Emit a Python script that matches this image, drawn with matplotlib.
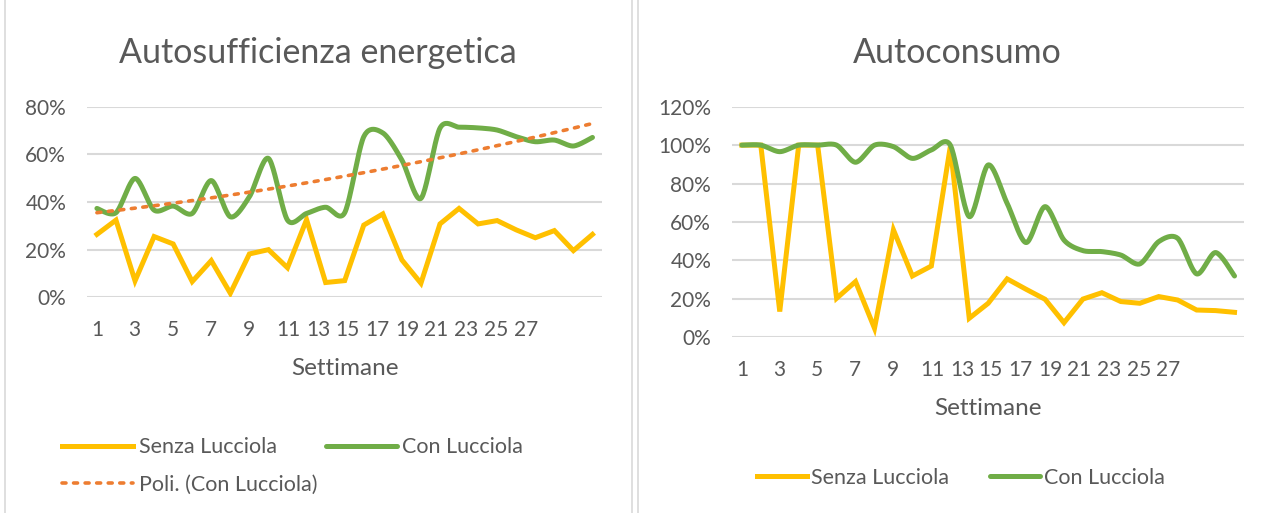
import numpy as np
import matplotlib
matplotlib.use("Agg")
import matplotlib.pyplot as plt
from matplotlib.patches import Rectangle
from matplotlib.ticker import PercentFormatter

plt.rcParams['font.family'] = ['Lato', 'DejaVu Sans']

# settimane 1..27
weeks = np.arange(1, 28)

# Autosufficienza energetica (frazione)
autosuff_senza = [0.264, 0.324, 0.069, 0.255, 0.224, 0.066, 0.154, 0.017, 0.182,
                  0.200, 0.124, 0.326, 0.062, 0.070, 0.303, 0.350, 0.157, 0.059,
                  0.308, 0.373, 0.308, 0.322, 0.283, 0.250, 0.280, 0.196, 0.264]
autosuff_con = [0.373, 0.355, 0.499, 0.366, 0.383, 0.352, 0.490, 0.338, 0.422,
                0.583, 0.324, 0.352, 0.378, 0.355, 0.674, 0.690, 0.576, 0.415,
                0.710, 0.714, 0.711, 0.702, 0.674, 0.653, 0.660, 0.635, 0.671]

# Autoconsumo (frazione)
autocons_senza = [1.00, 1.00, 0.134, 1.00, 1.00, 0.203, 0.290, 0.047, 0.559,
                  0.319, 0.371, 0.992, 0.099, 0.177, 0.304, 0.250, 0.198, 0.076,
                  0.199, 0.232, 0.186, 0.177, 0.212, 0.194, 0.142, 0.139, 0.130]
autocons_con = [1.00, 1.00, 0.966, 1.00, 1.00, 1.00, 0.911, 1.00, 0.992,
                0.931, 0.975, 1.00, 0.628, 0.897, 0.697, 0.493, 0.680, 0.506,
                0.451, 0.446, 0.428, 0.382, 0.498, 0.515, 0.330, 0.441, 0.319]

tick_labels = ['1', '3', '5', '7', '9', '11', '13', '15', '17', '19', '21', '23', '25', '27']
# posizioni delle etichette come le dispone Excel (compresse dopo 11)
tick_pos = [1, 2.98, 4.98, 6.97, 8.97, 11.07, 12.64, 14.14, 15.70, 17.28, 18.79, 20.37, 21.95, 23.52]

YELLOW = '#FFC000'
GREEN = '#70AD47'
ORANGE = '#ED7D31'
GRID = '#D9D9D9'
TXT = '#595959'


def smooth(x, y, n=24, k=7.0):
    # curva liscia tipo Excel (Bezier con tangenti Catmull-Rom)
    x = np.asarray(x, float)
    y = np.asarray(y, float)
    px = np.concatenate([[x[0]], x, [x[-1]]])
    py = np.concatenate([[y[0]], y, [y[-1]]])
    t = np.linspace(0, 1, n)[:, None]
    xs, ys = [], []
    for i in range(1, len(px) - 2):
        p0 = np.array([px[i], py[i]])
        p3 = np.array([px[i + 1], py[i + 1]])
        c1 = p0 + (p3 - np.array([px[i - 1], py[i - 1]])) / k
        c2 = p3 - (np.array([px[i + 2], py[i + 2]]) - p0) / k
        b = ((1 - t) ** 3) * p0 + 3 * ((1 - t) ** 2) * t * c1 + 3 * (1 - t) * t ** 2 * c2 + t ** 3 * p3
        xs.append(b[:, 0])
        ys.append(b[:, 1])
    return np.concatenate(xs), np.concatenate(ys)


W, H = 1273, 513
fig = plt.figure(figsize=(W / 100, H / 100), dpi=100)
fig.patch.set_facecolor('white')

# cornici dei due grafici
fig.patches.append(Rectangle((5 / W, -0.05), 627 / W, 1.1, transform=fig.transFigure,
                             fill=False, edgecolor=GRID, lw=1.2))
fig.patches.append(Rectangle((638 / W, -0.05), 640 / W, 1.1, transform=fig.transFigure,
                             fill=False, edgecolor=GRID, lw=1.2))


def ax_rect(l, t, r, b):
    return [l / W, 1 - b / H, (r - l) / W, (b - t) / H]


ax1 = fig.add_axes(ax_rect(87, 106.7, 602, 297.3))
ax2 = fig.add_axes(ax_rect(732, 106.7, 1244, 337.3))

for ax, ymax in ((ax1, 0.8), (ax2, 1.2)):
    ax.set_xlim(0.48, 27.5)
    ax.set_ylim(0, ymax)
    ax.set_yticks(np.arange(0, ymax + 0.01, 0.2))
    ax.yaxis.set_major_formatter(PercentFormatter(1.0, decimals=0))
    ax.grid(axis='y', color=GRID, lw=1.5)
    ax.set_axisbelow(True)
    for s in ax.spines.values():
        s.set_visible(False)
    ax.set_xticks(tick_pos)
    ax.set_xticklabels(tick_labels)
    ax.tick_params(length=0, labelsize=15, colors=TXT)
    ax.tick_params(axis='x', pad=16)
    ax.tick_params(axis='y', pad=15)
    ax.set_xlabel('Settimane', fontsize=17.5, color=TXT, labelpad=13)

# grafico 1
l_senza, = ax1.plot(weeks, autosuff_senza, color=YELLOW, lw=3.6, solid_joinstyle='miter')
sx, sy = smooth(weeks, autosuff_con)
l_con, = ax1.plot(sx, sy, color=GREEN, lw=3.6, solid_capstyle='round')
coef = np.polyfit(weeks, autosuff_con, 2)
tx = np.linspace(1, 27, 200)
l_poly, = ax1.plot(tx, np.polyval(coef, tx), color=ORANGE, lw=2.6,
                   linestyle=(0, (1.1, 2.1)), dash_capstyle='round')

fig.text(318 / W, 1 - 53 / H, 'Autosufficienza energetica', ha='center', va='center',
         fontsize=24.5, color=TXT)
ax1.legend([l_senza, l_poly, l_con],
           ['Senza Lucciola', 'Poli. (Con Lucciola)', 'Con Lucciola'],
           ncol=2, loc='upper left', bbox_to_anchor=(43 / W, 1 - 418 / H),
           bbox_transform=fig.transFigure, frameon=False, fontsize=15.5,
           labelcolor=TXT, handlelength=3.3, handletextpad=0.25,
           columnspacing=0.4, labelspacing=0.8)

# grafico 2
ax2.plot(weeks, autocons_senza, color=YELLOW, lw=3.6, solid_joinstyle='miter', label='Senza Lucciola')
sx2, sy2 = smooth(weeks, autocons_con)
ax2.plot(sx2, sy2, color=GREEN, lw=3.6, solid_capstyle='round', label='Con Lucciola')
fig.text(957 / W, 1 - 53 / H, 'Autoconsumo', ha='center', va='center',
         fontsize=24.5, color=TXT)
ax2.legend(ncol=2, loc='center', bbox_to_anchor=(961 / W, 1 - 478 / H),
           bbox_transform=fig.transFigure, frameon=False, fontsize=15.5,
           labelcolor=TXT, handlelength=2.3, handletextpad=0.2, columnspacing=1.9)

fig.savefig('out.png', dpi=100, facecolor='white')
